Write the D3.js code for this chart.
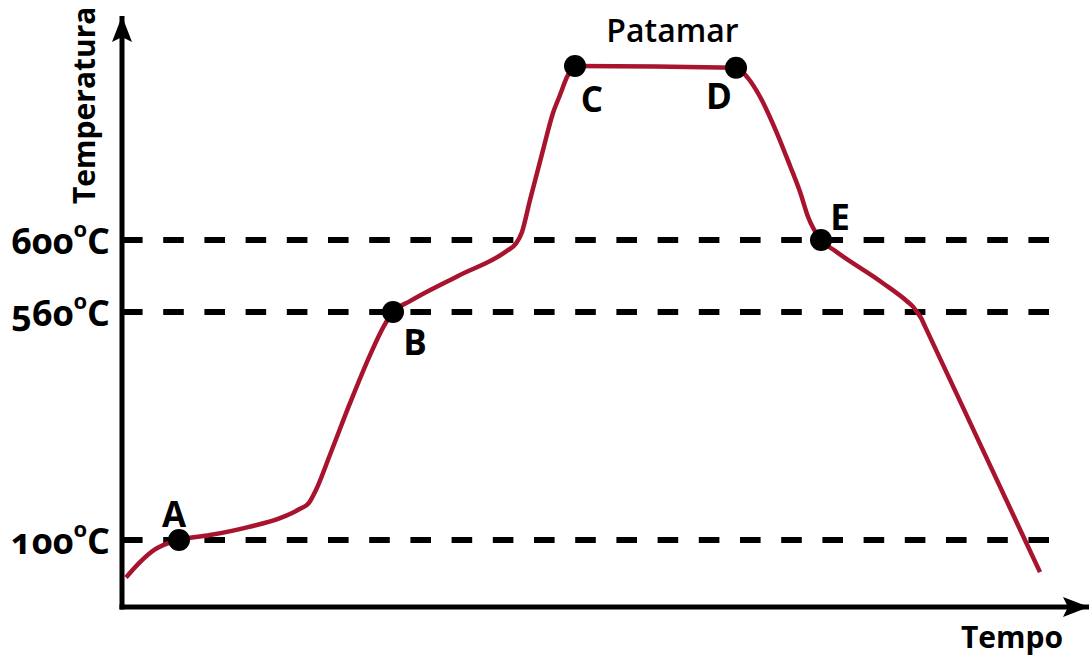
<!DOCTYPE html>
<html>
<head>
<meta charset="utf-8">
<script src="https://cdn.jsdelivr.net/npm/d3@7"></script>
<style>
  body { margin: 0; background: #fff; }
  svg text { font-family: "Open Sans", sans-serif; font-weight: 700; fill: #000; }
</style>
</head>
<body>
<div id="chart"></div>
<script>
// reference levels on the temperature axis
var tempTicks = [100, 560, 600];
var tickLabels = ["100", "560", "600"];

// heating curve (time in arbitrary units, temperature in °C, schematic)
var curveTime = [4, 18, 33, 46, 57, 88, 126, 158, 178, 187, 194, 208, 228, 248, 262, 271,
                 288, 336, 385, 394, 400, 408, 421, 431, 438, 445, 453, 614, 626, 638, 655, 668,
                 678, 686, 699, 713, 761, 785, 791, 795, 799, 803, 858, 918];
var curveTemp = [44, 67, 86, 95, 100, 110, 126, 144, 163, 175, 201, 272, 376, 473, 532, 560,
                 566, 580, 594, 598, 614, 669, 755, 819, 850, 881, 900, 897, 879, 847, 784, 728,
                 683, 640, 600, 594, 576, 566, 563, 560, 548, 531, 294, 52];

// marked stages
var pointNames = ["A", "B", "C", "D", "E"];
var pointTime = [57, 271, 453, 614, 699];
var pointTemp = [100, 560, 900, 897, 600];

var timeMax = 960, guideEnd = 928;

var W = 1089, H = 657;
var x = d3.scaleLinear().domain([0, timeMax]).range([122, 1082]);
// schematic (non proportional) temperature axis
var y = d3.scaleLinear().domain([0, 100, 560, 600, 900]).range([607, 540, 312, 240, 66]);

var labelOffset = {A: [-5, -13], B: [22, 43], C: [17, 46], D: [-17, 41], E: [19, -10]};

var svg = d3.select("#chart").append("svg")
    .attr("width", W)
    .attr("height", H);

var defs = svg.append("defs");
defs.append("marker")
    .attr("id", "arrow")
    .attr("viewBox", "0 0 13 10")
    .attr("refX", 13).attr("refY", 5)
    .attr("markerUnits", "userSpaceOnUse")
    .attr("markerWidth", 26).attr("markerHeight", 20)
    .attr("orient", "auto")
  .append("path")
    .attr("d", "M0,0 L13,5 L0,10 L2.5,5 Z")
    .attr("fill", "#000");

// dashed guide lines
svg.append("g").attr("class", "guides")
  .selectAll("line")
  .data(tempTicks)
  .enter().append("line")
    .attr("x1", x(0))
    .attr("x2", x(guideEnd))
    .attr("y1", function(d) { return y(d); })
    .attr("y2", function(d) { return y(d); })
    .attr("stroke", "#000")
    .attr("stroke-width", 6)
    .attr("stroke-dasharray", "20.6,20.6");

// axes with arrows
svg.append("line")
    .attr("x1", x(0)).attr("y1", y(0) + 2.5)
    .attr("x2", x(0)).attr("y2", 16)
    .attr("stroke", "#000").attr("stroke-width", 5)
    .attr("marker-end", "url(#arrow)");
svg.append("line")
    .attr("x1", x(0) - 2.5).attr("y1", y(0))
    .attr("x2", W).attr("y2", y(0))
    .attr("stroke", "#000").attr("stroke-width", 5)
    .attr("marker-end", "url(#arrow)");

// tick labels  e.g. 600°C with a raised small "o"
var ticks = svg.append("g").attr("class", "tick-labels")
  .selectAll("text")
  .data(tempTicks)
  .enter().append("text")
    .attr("x", 110)
    .attr("y", function(d) { return y(d) + 14; })
    .attr("text-anchor", "end")
    .style("font-size", "36px")
    .style("font-variant-numeric", "oldstyle-nums");
ticks.append("tspan").text(function(d, i) { return tickLabels[i]; });
ticks.append("tspan").attr("dy", -17).style("font-size", "22px").text("o");
ticks.append("tspan").attr("dy", 17).text("C");

// axis titles
svg.append("text")
    .attr("transform", "translate(95,204) rotate(-90)")
    .style("font-size", "30px")
    .text("Temperatura");
svg.append("text")
    .attr("x", 1063).attr("y", 648)
    .attr("text-anchor", "end")
    .style("font-size", "30px")
    .text("Tempo");

// the curve
var curveData = curveTime.map(function(t, i) { return {t: t, v: curveTemp[i]}; });
var line = d3.line()
    .x(function(d) { return x(d.t); })
    .y(function(d) { return y(d.v); })
    .curve(d3.curveMonotoneX);

svg.append("path")
    .datum(curveData)
    .attr("d", line)
    .attr("fill", "none")
    .attr("stroke", "#a8142e")
    .attr("stroke-width", 4.5)
    .attr("stroke-linejoin", "round");

// stage markers
var pts = pointNames.map(function(n, i) { return {name: n, t: pointTime[i], v: pointTemp[i]}; });
var pg = svg.append("g").attr("class", "stages")
  .selectAll("g")
  .data(pts)
  .enter().append("g");
pg.append("circle")
    .attr("cx", function(d) { return x(d.t); })
    .attr("cy", function(d) { return y(d.v); })
    .attr("r", 11)
    .attr("fill", "#000");
pg.append("text")
    .attr("x", function(d) { return x(d.t) + labelOffset[d.name][0]; })
    .attr("y", function(d) { return y(d.v) + labelOffset[d.name][1]; })
    .attr("text-anchor", "middle")
    .style("font-size", "35px")
    .text(function(d) { return d.name; });

// plateau label
svg.append("text")
    .attr("x", (x(pointTime[2]) + x(pointTime[3])) / 2 + 17)
    .attr("y", y(pointTemp[2]) - 24)
    .attr("text-anchor", "middle")
    .style("font-size", "32px")
    .style("font-weight", 600)
    .text("Patamar");
</script>
</body>
</html>
